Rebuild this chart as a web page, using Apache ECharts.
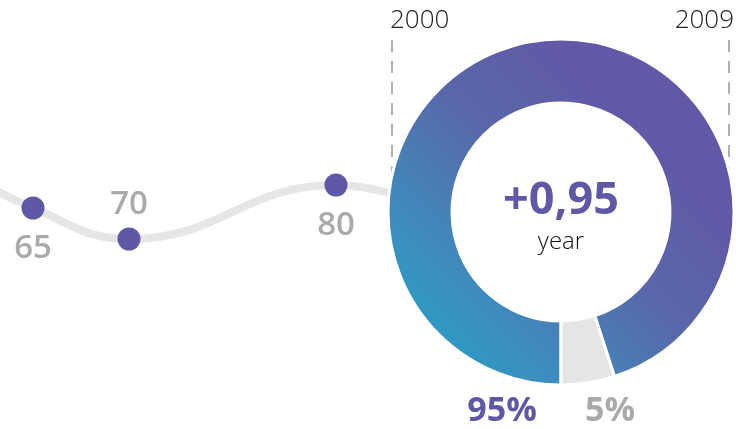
<!DOCTYPE html>
<html>
<head>
<meta charset="utf-8">
<script src="https://cdn.jsdelivr.net/npm/echarts@6/dist/echarts.min.js"></script>
<style>
html,body{margin:0;padding:0;background:#fff;}
#chart{width:736px;height:429px;}
</style>
</head>
<body>
<div id="chart"></div>
<script>
// Timeline curve (positions along hidden axes) and point labels
var curveX = [-50, 33, 129, 336, 450];
var curveY = [165, 208, 239, 185, 215];
var pointLabels = [null, '65', '70', '80', null];
var labelSide = [null, 'bottom', 'top', 'bottom', null];
// Year markers
var yearMarks = ['2000', '2009'];
var yearMarkX = [392, 729];
var yearMarkAlign = ['left', 'right'];
var yearMarkTop = 40;
var yearMarkBottom = 210;
// Donut
var shareNames = ['95%', '5%'];
var shareValues = [95, 5];
var centerValue = '+0,95';
var centerUnit = 'year';

var purple = '#5e58a6';

var lineData = curveX.map(function (x, i) {
  var item = { value: [x, curveY[i]] };
  if (pointLabels[i] === null) {
    item.symbolSize = 0;
    item.symbol = 'none';
  } else {
    item.label = {
      show: true,
      position: labelSide[i],
      distance: labelSide[i] === 'top' ? 6 : 13,
      formatter: pointLabels[i]
    };
  }
  return item;
});

var markLineData = yearMarks.map(function (y, i) {
  return [
    { coord: [yearMarkX[i], yearMarkTop], name: y },
    { coord: [yearMarkX[i], yearMarkBottom] }
  ];
});

var chart = echarts.init(document.getElementById('chart'));

var yearTexts = yearMarks.map(function (y, i) {
  return {
    type: 'text', z: 10,
    style: {
      text: y, x: yearMarkX[i] + (yearMarkAlign[i] === 'left' ? -2 : 5), y: 21,
      align: yearMarkAlign[i], verticalAlign: 'middle',
      font: '300 26px "Open Sans"', fill: '#222'
    }
  };
});

chart.setOption({
  animation: false,
  backgroundColor: '#fff',
  grid: { left: 0, right: 0, top: 0, bottom: 0 },
  xAxis: { type: 'value', min: 0, max: 736, show: false },
  yAxis: { type: 'value', min: 0, max: 429, inverse: true, show: false },
  series: [
    {
      type: 'line',
      smooth: 0.45,
      data: lineData,
      symbol: 'circle',
      symbolSize: 23,
      itemStyle: { color: purple },
      lineStyle: { color: '#e6e6e6', width: 8 },
      label: {
        fontFamily: 'Open Sans',
        fontWeight: 600,
        fontSize: 33,
        color: '#aaaaaa'
      },
      markLine: {
        silent: true,
        z: 1,
        symbol: ['none', 'none'],
        lineStyle: { color: '#b0b0b0', type: [12, 9], width: 2 },
        label: { show: false },
        data: markLineData
      },
      z: 1
    },
    {
      type: 'pie',
      center: [561, 212],
      radius: [109, 173],
      startAngle: 270,
      clockwise: true,
      label: { show: false },
      labelLine: { show: false },
      itemStyle: { borderColor: '#fff', borderWidth: 3 },
      data: [
        {
          name: shareNames[0], value: shareValues[0],
          itemStyle: {
            color: new echarts.graphic.LinearGradient(0, 1, 1, 0, [
              { offset: 0, color: '#1ea9cc' },
              { offset: 0.25, color: '#3d8dbe' },
              { offset: 0.5, color: '#5868aa' },
              { offset: 0.72, color: '#6159a7' },
              { offset: 1, color: '#6159a7' }
            ])
          }
        },
        { name: shareNames[1], value: shareValues[1], itemStyle: { color: '#e5e5e5' } }
      ],
      z: 3
    }
  ],
  graphic: yearTexts.concat([
    {
      type: 'text', z: 10,
      style: {
        text: centerValue, x: 561, y: 201, align: 'center', verticalAlign: 'middle',
        font: 'bold 45px "Open Sans"', fill: purple
      }
    },
    {
      type: 'text', z: 10,
      style: {
        text: centerUnit, x: 561, y: 242, align: 'center', verticalAlign: 'middle',
        font: '300 24px "Open Sans"', fill: '#111'
      }
    },
    {
      type: 'text', z: 10,
      style: {
        text: shareNames[0], x: 502, y: 411, align: 'center', verticalAlign: 'middle',
        font: 'bold 34px "Open Sans"', fill: purple
      }
    },
    {
      type: 'text', z: 10,
      style: {
        text: shareNames[1], x: 610, y: 411, align: 'center', verticalAlign: 'middle',
        font: 'bold 34px "Open Sans"', fill: '#aaaaaa'
      }
    }
  ])
});
</script>
</body>
</html>
